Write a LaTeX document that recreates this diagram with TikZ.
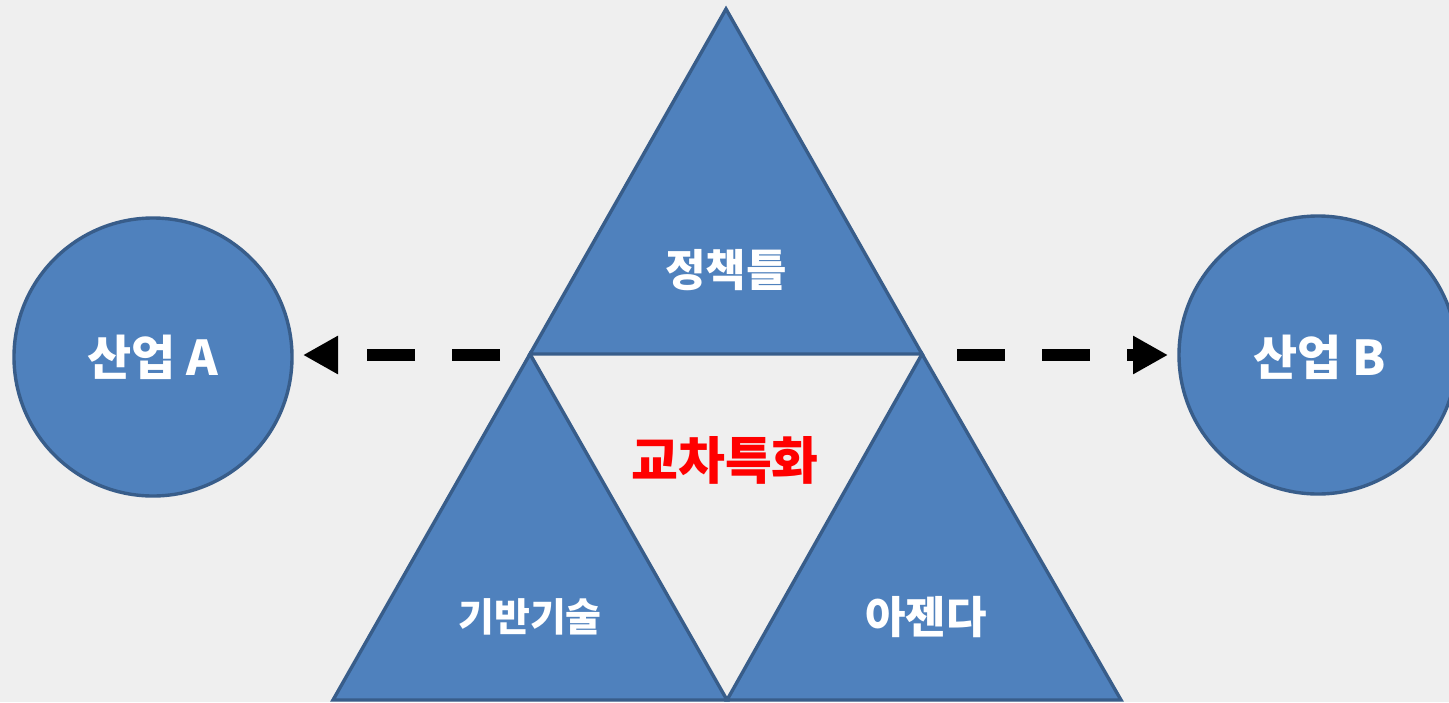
\documentclass[tikz,border=0pt]{standalone}
\usepackage{fontspec}
\newfontfamily\kr{Noto Sans CJK KR}
\usetikzlibrary{arrows.meta}
\definecolor{bg}{HTML}{EFEFEF}
\definecolor{shapefill}{HTML}{4F81BD}
\definecolor{shapeline}{HTML}{385D8A}
\tikzset{
  tri/.style={fill=shapefill, draw=shapeline, line width=1.7pt, line join=miter},
  ind/.style={circle, fill=shapefill, draw=shapeline, line width=1.7pt, minimum size=139pt, inner sep=0pt},
  lbl/.style={text=white, font=\kr\bfseries},
  conn/.style={line width=6pt, dash pattern=on 24pt off 18.5pt, -{Triangle[length=17.5pt,width=18pt]}},
}
\begin{document}
\begin{tikzpicture}[x=0.5pt,y=-0.5pt]
\fill[bg] (0,0) rectangle (1449,702);
\useasboundingbox (0,0) rectangle (1449,702);
% triangle vertices
\coordinate (T) at (726,9);
\coordinate (L) at (530,354);
\coordinate (R) at (922,354);
\coordinate (BL) at (333,700);
\coordinate (BM) at (727,700);
\coordinate (BR) at (1121,700);
\draw[tri] (L) -- (BL) -- (BM) -- cycle;
\draw[tri] (R) -- (BM) -- (BR) -- cycle;
\draw[tri] (T) -- (L) -- (R) -- cycle;
% circles
\node[ind] (A) at (153,357) {};
\node[ind] (B) at (1318,355) {};
% labels
\node[lbl, font=\kr\bfseries\fontsize{24}{28}\selectfont] at (A) {산업 A};
\node[lbl, font=\kr\bfseries\fontsize{24}{28}\selectfont] at (1320,357) {산업 B};
\node[lbl, font=\kr\bfseries\fontsize{22}{26}\selectfont] (p) at (726,270) {정책틀};
\node[lbl, font=\kr\bfseries\fontsize{19.5}{23}\selectfont] (t) at (530,617) {기반기술};
\node[lbl, font=\kr\bfseries\fontsize{22}{26}\selectfont] (g) at (926,617) {아젠다};
\node[text={rgb,255:red,255;green,0;blue,0}, font=\kr\bfseries\fontsize{25.5}{29}\selectfont] (c) at (725,460) {교차특화};
% connectors
\coordinate (ls) at (500,355);
\coordinate (le) at (303,355);
\coordinate (rs) at (957,355);
\coordinate (re) at (1168,355);
\draw[conn] (ls) -- (le);
\draw[conn] (rs) -- (re);
\end{tikzpicture}
\end{document}
